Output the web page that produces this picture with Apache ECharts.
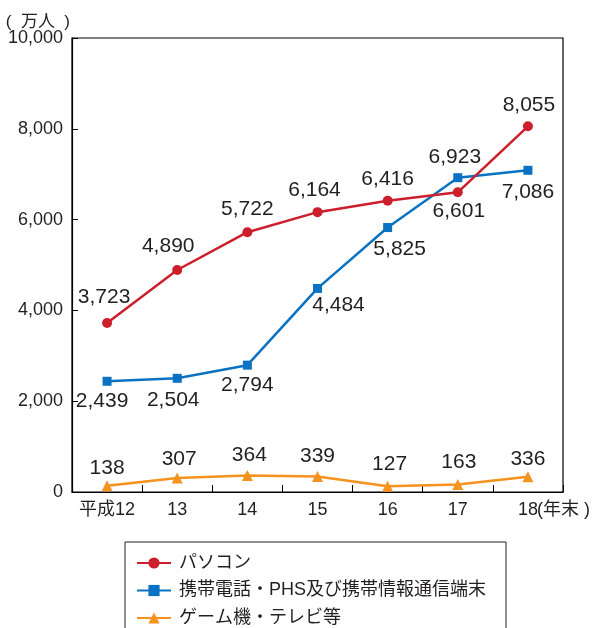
<!DOCTYPE html>
<html>
<head>
<meta charset="utf-8">
<script src="https://cdn.jsdelivr.net/npm/echarts@6/dist/echarts.min.js"></script>
<style>
  html, body { margin: 0; padding: 0; background: #fff; }
  #chart { width: 600px; height: 628px; }
</style>
</head>
<body>
<div id="chart"></div>
<script>
// Internet users by access device (10,000 persons), end of year
const categories = ['平成12', '13', '14', '15', '16', '17', '18'];
const seriesNames = ['パソコン', '携帯電話・PHS及び携帯情報通信端末', 'ゲーム機・テレビ等'];
const pcUsers = [3723, 4890, 5722, 6164, 6416, 6601, 8055];
const mobileUsers = [2439, 2504, 2794, 4484, 5825, 6923, 7086];
const gameTvUsers = [138, 307, 364, 339, 127, 163, 336];
const yTicks = [0, 2000, 4000, 6000, 8000, 10000];

const FONT = "'Liberation Sans', Arial, 'Noto Sans CJK JP', sans-serif";
const TEXT = '#231f20';

// value label offsets [dx, dy] from each marker's centre
const pcLabelOffset = [[-3, -26], [-9, -24], [0, -23], [-3, -22], [0, -22], [1, 19], [1, -21]];
const mobileLabelOffset = [[-5, 20], [-4, 22], [0, 20], [21, 17], [12, 22], [-3, -20], [0, 22]];
const gameLabelOffset = [[0, -18], [2, -19], [2, -20], [0, -20], [2, -22], [1, -22], [0, -18]];

function fmt(v) { return v.toLocaleString('en-US'); }

function buildData(values, offsets) {
  return values.map((v, i) => ({
    value: v,
    label: { position: 'inside', offset: offsets[i] }
  }));
}

const labelStyle = {
  show: true,
  fontSize: 21,
  color: TEXT,
  fontFamily: FONT,
  formatter: p => fmt(p.value)
};

const chart = echarts.init(document.getElementById('chart'), null, { renderer: 'canvas' });
chart.setOption({
  animation: false,
  textStyle: { fontFamily: FONT, color: TEXT },
  grid: {
    left: 72, right: 37, top: 38, bottom: 136,
    show: true, borderColor: '#000', borderWidth: 1.2
  },
  legend: {
    orient: 'vertical',
    left: 125, top: 542, height: 160,
    padding: [12, 20, 12, 11],
    borderColor: '#222', borderWidth: 1,
    itemWidth: 34, itemHeight: 14, itemGap: 9.5,
    textStyle: { fontSize: 18, color: TEXT, fontFamily: FONT, padding: [0, 0, 0, 3] },
    data: seriesNames
  },
  xAxis: {
    type: 'category',
    data: categories,
    boundaryGap: true,
    axisLine: { lineStyle: { color: '#000', width: 1.2 } },
    axisTick: { show: true, inside: true, length: 7, lineStyle: { color: '#000' } },
    axisLabel: { interval: 0, fontSize: 18, color: TEXT, margin: 9, fontFamily: FONT },
    name: '(年末 )',
    nameLocation: 'end',
    nameGap: -26,
    nameMoveOverlap: false,
    nameTextStyle: { fontSize: 18, color: TEXT, align: 'left', verticalAlign: 'top', padding: [9, 0, 0, 0] }
  },
  yAxis: {
    type: 'value',
    min: yTicks[0], max: yTicks[yTicks.length - 1], interval: 2000,
    axisLine: { show: true, lineStyle: { color: '#000', width: 1.2 } },
    axisTick: { show: true, inside: true, length: 6, lineStyle: { color: '#000' } },
    splitLine: { show: false },
    axisLabel: { fontSize: 18, color: TEXT, margin: 9, fontFamily: FONT, formatter: v => fmt(v) },
    name: '(  万人  )',
    nameLocation: 'end',
    nameGap: 7,
    nameMoveOverlap: false,
    nameTextStyle: { fontSize: 17, color: TEXT, align: 'right', padding: [0, 2, 0, 0] }
  },
  series: [
    {
      name: seriesNames[0], type: 'line',
      data: buildData(pcUsers, pcLabelOffset),
      symbol: 'circle', symbolSize: 10,
      lineStyle: { color: '#cc1f2b', width: 2.5 },
      itemStyle: { color: '#cc1f2b' },
      label: labelStyle, z: 3
    },
    {
      name: seriesNames[1], type: 'line',
      data: buildData(mobileUsers, mobileLabelOffset),
      symbol: 'rect', symbolSize: 9,
      lineStyle: { color: '#0a72c2', width: 2.5 },
      itemStyle: { color: '#0a72c2' },
      label: labelStyle, z: 2
    },
    {
      name: seriesNames[2], type: 'line',
      data: buildData(gameTvUsers, gameLabelOffset),
      symbol: 'triangle', symbolSize: 11,
      lineStyle: { color: '#f6921e', width: 2.5 },
      itemStyle: { color: '#f6921e' },
      label: labelStyle, z: 1
    }
  ]
});
</script>
</body>
</html>
